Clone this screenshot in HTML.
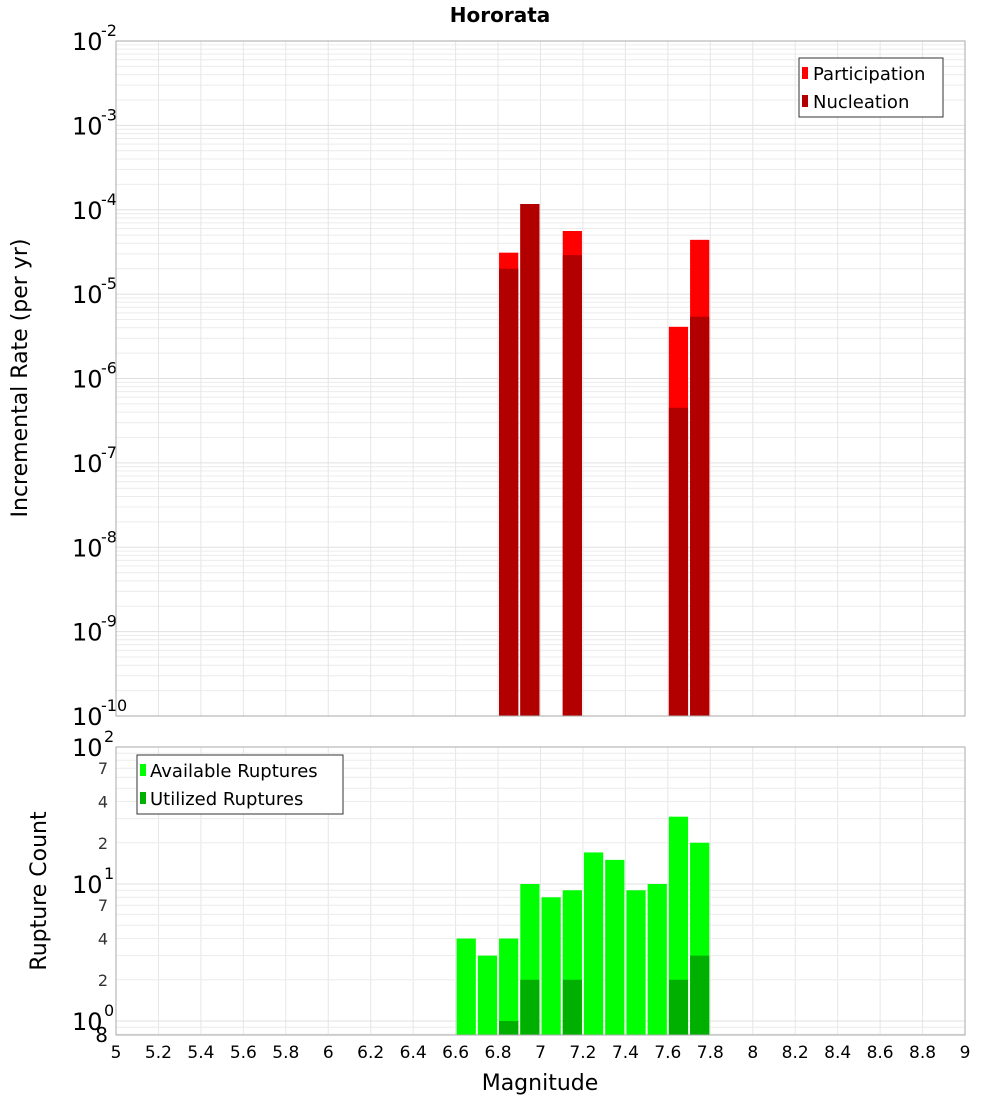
<!DOCTYPE html>
<html><head><meta charset="utf-8"><style>
body{margin:0;background:#fff;}
svg{display:block;font-family:"DejaVu Sans","Liberation Sans",sans-serif;}
</style></head><body>
<svg id="chart" width="1000" height="1100" viewBox="0 0 1000 1100" xmlns="http://www.w3.org/2000/svg">
<text x="500" y="22" text-anchor="middle" font-size="20" font-weight="bold">Hororata</text>
<g id="topG"></g>
<g id="botG"></g>
<text transform="translate(27,378) rotate(-90)" text-anchor="middle" font-size="22">Incremental Rate (per yr)</text>
<text transform="translate(46,891) rotate(-90)" text-anchor="middle" font-size="22">Rupture Count</text>
<text x="540" y="1090" text-anchor="middle" font-size="22">Magnitude</text>
</svg>
<script>
const binStarts=[6.6,6.7,6.8,6.9,7.0,7.1,7.2,7.3,7.4,7.5,7.6,7.7];
const available=[4,3,4,10,8,9,17,15,9,10,31,20];
const utilized=[0,0,1,2,0,2,0,0,0,0,2,3];
const rateBins=[6.8,6.9,7.1,7.6,7.7];
const participation=[3.1e-5,1.17e-4,5.6e-5,4.1e-6,4.4e-5];
const nucleation=[2.0e-5,1.17e-4,2.9e-5,4.5e-7,5.4e-6];
const xTicks=[5,5.2,5.4,5.6,5.8,6,6.2,6.4,6.6,6.8,7,7.2,7.4,7.6,7.8,8,8.2,8.4,8.6,8.8,9];
const topExps=[-2,-3,-4,-5,-6,-7,-8,-9,-10];
const botExps=[2,1,0];
const botMinor=[7,4,2];

const NS="http://www.w3.org/2000/svg";
const L=116,R=965;
const T1=41,B1=716,T2=747,B2=1035;
function x(m){return L+(m-5)*(R-L)/4;}
function yTop(v){return T1+(-2-Math.log10(v))*(B1-T1)/8;}
const dec2=137;
function yBot(v){return T2+(2-Math.log10(v))*dec2;}
function mk(parent,tag,attrs,text){const e=document.createElementNS(NS,tag);for(const k in attrs)e.setAttribute(k,attrs[k]);if(text!==undefined)e.textContent=text;parent.appendChild(e);return e;}
const topG=document.getElementById('topG'),botG=document.getElementById('botG');

for(let d=-10;d<-2;d++){for(let k=2;k<=9;k++){const yy=yTop(k*Math.pow(10,d));const g=mk(topG,'line',{x1:L,x2:R,y1:yy,y2:yy,stroke:'#ececec','stroke-width':1});

}}
xTicks.forEach(m=>{const g=mk(topG,'line',{x1:x(m),x2:x(m),y1:T1,y2:B1,stroke:'#e6e6e6'});


const g2=mk(botG,'line',{x1:x(m),x2:x(m),y1:T2,y2:B2,stroke:'#e6e6e6'});

});
topExps.forEach(e=>{const yy=yTop(Math.pow(10,e));const g=mk(topG,'line',{x1:L,x2:R,y1:yy,y2:yy,stroke:'#e0e0e0'});


const t=mk(topG,'text',{x:72,y:yy+9,'font-size':24},'10');


const s=mk(topG,'text',{x:101,y:yy-5,'font-size':16},String(e));

});
const bw=(R-L)/4*0.1;
rateBins.forEach((m,i)=>{
const p=mk(topG,'rect',{x:x(m)+1,y:yTop(participation[i]),width:bw-2,height:B1-yTop(participation[i]),fill:'#ff0000'});


const n=mk(topG,'rect',{x:x(m)+1,y:yTop(nucleation[i]),width:bw-2,height:B1-yTop(nucleation[i]),fill:'#b20000'});

});
const f1=mk(topG,'rect',{x:L,y:T1,width:R-L,height:B1-T1,fill:'none',stroke:'#aaa'});


const lg=mk(topG,'g',{});


mk(lg,'rect',{x:799,y:58,width:144,height:59,fill:'#fff',stroke:'#333'});
[['Participation','#ff0000',73],['Nucleation','#b20000',101]].forEach(a=>{
const it=mk(lg,'g',{});


mk(it,'rect',{x:802,y:a[2]-6,width:6,height:12,fill:a[1]});
mk(it,'text',{x:813,y:a[2]+7,'font-size':18},a[0]);});

for(let d=-1;d<2;d++){for(let k=2;k<=9;k++){const v=k*Math.pow(10,d);const yy=yBot(v);if(yy<T2||yy>B2)continue;
const g=mk(botG,'line',{x1:L,x2:R,y1:yy,y2:yy,stroke:'#ececec'});

}}
botExps.forEach(e=>{const yy=yBot(Math.pow(10,e));
const g=mk(botG,'line',{x1:L,x2:R,y1:yy,y2:yy,stroke:'#e0e0e0'});


const t=mk(botG,'text',{x:72,y:yy+9,'font-size':24},'10');


const s=mk(botG,'text',{x:104,y:yy-5,'font-size':16},String(e));

});
[1,10].forEach(base=>botMinor.forEach(k=>{const t=mk(botG,'text',{x:108,y:yBot(k*base)+6,'font-size':16,'text-anchor':'end',fill:'#333'},String(k));

}));
const e8=mk(botG,'text',{x:108,y:1042,'font-size':20,'text-anchor':'end'},'8');


binStarts.forEach((m,i)=>{
const a=mk(botG,'rect',{x:x(m)+1,y:yBot(available[i]),width:bw-2,height:B2-yBot(available[i]),fill:'#00ff00'});


if(utilized[i]>0){const u=mk(botG,'rect',{x:x(m)+1,y:yBot(utilized[i]),width:bw-2,height:B2-yBot(utilized[i]),fill:'#00b000'});

}});
const f2=mk(botG,'rect',{x:L,y:T2,width:R-L,height:B2-T2,fill:'none',stroke:'#aaa'});


xTicks.forEach(m=>{const t=mk(botG,'text',{x:x(m),y:1058,'font-size':17,'text-anchor':'middle'},String(m));

});
const lg2=mk(botG,'g',{});


mk(lg2,'rect',{x:137,y:755,width:206,height:59,fill:'#fff',stroke:'#333'});
[['Available Ruptures','#00ff00',770],['Utilized Ruptures','#00b000',798]].forEach(a=>{
const it=mk(lg2,'g',{});


mk(it,'rect',{x:140,y:a[2]-6,width:6,height:12,fill:a[1]});
mk(it,'text',{x:150,y:a[2]+7,'font-size':18},a[0]);});
</script>
</body></html>
